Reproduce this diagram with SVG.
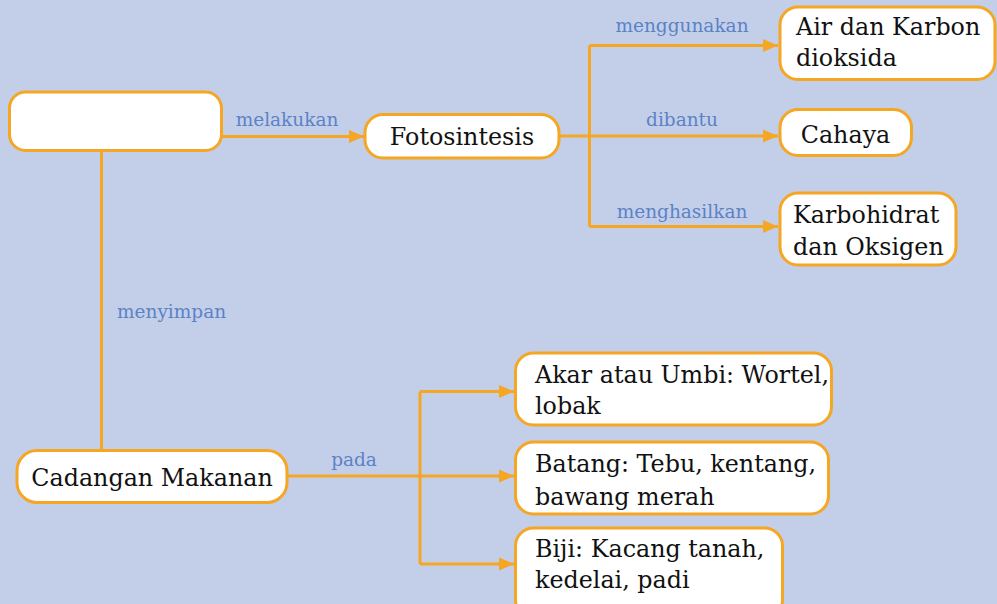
<svg xmlns="http://www.w3.org/2000/svg" width="997" height="604" viewBox="0 0 997 604">
<style>
.box{fill:#fff;stroke:#F5A623;stroke-width:3}
.t{font-family:"DejaVu Serif",serif;font-size:23.8px;fill:#111}
.lbl{font-family:"DejaVu Serif",serif;font-size:18.5px;fill:#5B82C6}
.c{fill:none;stroke:#F5A623;stroke-width:3}
</style>
<defs>
<marker id="ah" markerUnits="userSpaceOnUse" markerWidth="16" markerHeight="14" refX="15" refY="7" orient="auto">
<path d="M0,0.5 L15,7 L0,13.5 z" fill="#F5A623"/>
</marker>
</defs>
<rect width="997" height="604" fill="#C3CFE8"/>
<g id="connectors">
<path class="c" d="M221,136.5 H364" marker-end="url(#ah)"/>
<path class="c" d="M559,136 H589.5 M589.5,45.5 V226.5"/>
<path class="c" d="M589.5,45.5 H778" marker-end="url(#ah)"/>
<path class="c" d="M589.5,136 H778" marker-end="url(#ah)"/>
<path class="c" d="M589.5,226.5 H778" marker-end="url(#ah)"/>
<path class="c" d="M101.5,151 V450"/>
<path class="c" d="M287,476 H420 M420,391.5 V564"/>
<path class="c" d="M420,391.5 H514" marker-end="url(#ah)"/>
<path class="c" d="M420,476 H514" marker-end="url(#ah)"/>
<path class="c" d="M420,564 H514" marker-end="url(#ah)"/>
<text class="lbl" x="287" y="125.5" text-anchor="middle">melakukan</text>
<text class="lbl" x="682" y="31.5" text-anchor="middle">menggunakan</text>
<text class="lbl" x="682" y="126" text-anchor="middle">dibantu</text>
<text class="lbl" x="682" y="217.5" text-anchor="middle">menghasilkan</text>
<text class="lbl" x="117" y="318">menyimpan</text>
<text class="lbl" x="354" y="466" text-anchor="middle">pada</text>
</g>
<g id="plant"><rect class="box" x="9.5" y="92" width="212" height="58.5" rx="16"/></g>
<g id="fotosintesis"><rect class="box" x="365" y="114.5" width="194" height="43.5" rx="18"/><text class="t" x="462" y="145" text-anchor="middle">Fotosintesis</text></g>
<g id="air"><rect class="box" x="780" y="7" width="215" height="72.5" rx="18"/><text class="t" x="796" y="35">Air dan Karbon</text><text class="t" x="796" y="66">dioksida</text></g>
<g id="cahaya"><rect class="box" x="780" y="109.5" width="131.5" height="46" rx="18"/><text class="t" x="845.5" y="143" text-anchor="middle">Cahaya</text></g>
<g id="karbohidrat"><rect class="box" x="780" y="193" width="176" height="72" rx="18"/><text class="t" x="793" y="223">Karbohidrat</text><text class="t" x="793" y="255">dan Oksigen</text></g>
<g id="cadangan"><rect class="box" x="17" y="450.5" width="270" height="52" rx="20"/><text class="t" x="152" y="486" text-anchor="middle">Cadangan Makanan</text></g>
<g id="akar"><rect class="box" x="515.5" y="353" width="316" height="72" rx="18"/><text class="t" x="535" y="383">Akar atau Umbi: Wortel,</text><text class="t" x="535" y="414">lobak</text></g>
<g id="batang"><rect class="box" x="515.5" y="442" width="313" height="72" rx="18"/><text class="t" x="535" y="471.5">Batang: Tebu, kentang,</text><text class="t" x="535" y="505">bawang merah</text></g>
<g id="biji"><rect class="box" x="515.5" y="528" width="267" height="90" rx="18"/><text class="t" x="535" y="556.5">Biji: Kacang tanah,</text><text class="t" x="535" y="588">kedelai, padi</text></g>
</svg>
